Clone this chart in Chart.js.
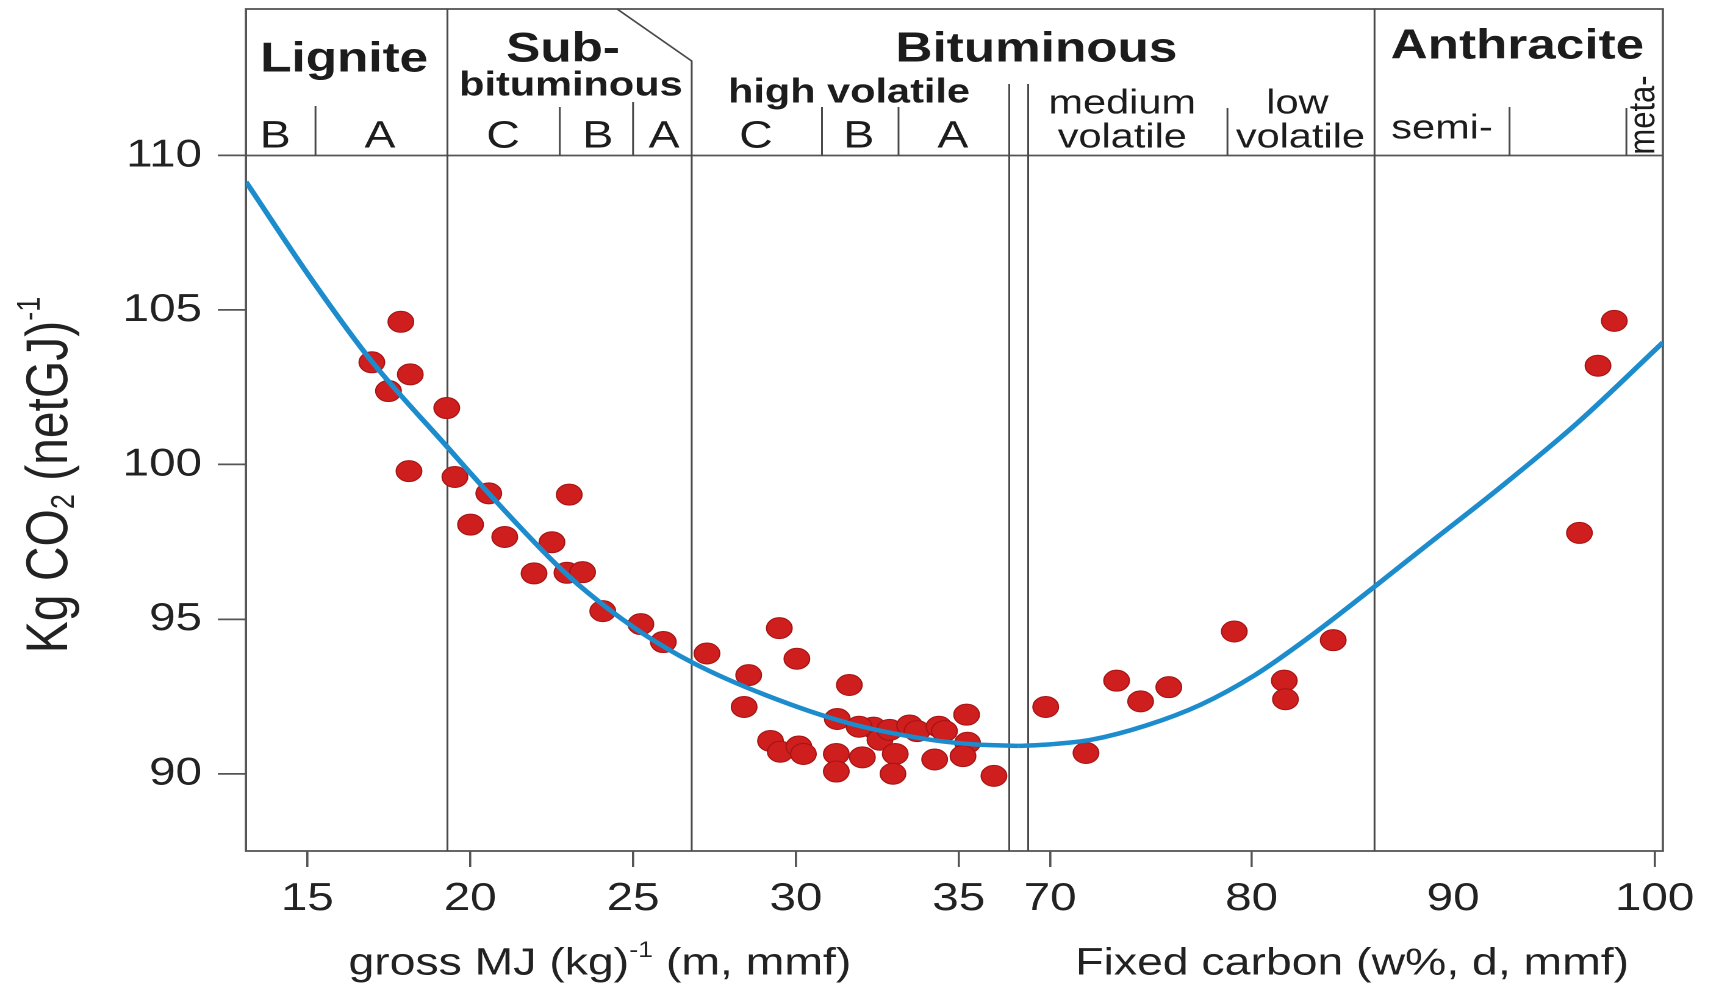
<!DOCTYPE html>
<html>
<head>
<meta charset="utf-8">
<script src="https://cdn.jsdelivr.net/npm/chart.js@4.4.1/dist/chart.umd.min.js"></script>
<style>
  html, body { margin: 0; padding: 0; background: #fff; overflow: hidden; }
  #wrap { width: 1404px; height: 985px; transform: scaleX(1.22); transform-origin: 0 0; }
</style>
</head>
<body>
<div id="wrap"><canvas id="chart" width="1404" height="985"></canvas></div>
<script>
// samples, gross calorific value side (MJ/kg)
const grossX = [16.98, 17.87, 17.49, 18.16, 18.12, 19.28, 19.53, 20.57, 20.01, 21.06, 22.51, 23.04,
    21.96, 22.97, 23.45, 24.07, 25.24, 25.93, 27.27, 28.55, 29.49, 30.03, 28.41, 29.22, 29.52,
    30.09, 30.23, 31.64, 31.27, 31.24, 31.24, 32.04, 32.38, 32.58, 32.88, 33.05, 32.98, 33.49,
    33.72, 34.39, 34.26, 34.56, 35.24, 35.27, 35.13, 36.08, 31.94];
const grossY = [103.31, 104.62, 102.38, 102.92, 99.79, 101.83, 99.6, 99.07, 98.06, 97.66, 97.49, 99.03,
    96.48, 96.5, 96.52, 95.26, 94.84, 94.26, 93.89, 93.19, 94.71, 93.72, 92.16, 91.06, 90.71,
    90.88, 90.64, 92.87, 91.77, 90.64, 90.07, 90.53, 91.49, 91.1, 91.42, 90.64, 90.0, 91.56,
    91.38, 91.52, 90.46, 91.38, 91.91, 91.0, 90.57, 89.93, 91.52];

// samples, fixed carbon side (w%)
const carbonX = [69.78, 71.78, 73.3, 74.49, 75.89, 79.14, 81.62, 81.68, 84.05, 96.27, 97.19, 98.0];
const carbonY = [92.16, 90.67, 93.01, 92.34, 92.8, 94.6, 93.01, 92.41, 94.32, 97.79, 103.2, 104.65];

// fitted curve
const fitGrossX = [13.115, 15.13, 16.97, 19.28, 20.56, 22.82, 23.95, 25.28, 26.87, 29.08, 31.64, 34.2, 35.5, 36.84];
const fitGrossY = [109.15, 105.99, 103.35, 100.59, 99.08, 96.59, 95.57, 94.55, 93.57, 92.54, 91.63, 91.09, 90.95, 90.9];
const fitCarbonX = [68.44, 70, 72.05, 74.76, 77.46, 80.16, 82.86, 86.0, 89.0, 92.22, 96.17, 100.41];
const fitCarbonY = [90.9, 90.95, 91.1, 91.56, 92.23, 93.19, 94.42, 96.0, 97.55, 99.2, 101.35, 103.95];

const grossTicks = [15, 20, 25, 30, 35];
const carbonTicks = [70, 80, 90, 100];
const co2Ticks = [90, 95, 100, 105, 110];

const FONT = '"Liberation Sans", Arial, Helvetica, sans-serif';
const INK = '#1c1c1c';
const FRAME = '#555';

function pts(xs, ys) {
    return xs.map((x, i) => ({x: x, y: ys[i]}));
}

// header labels: text, axis (1 = gross, 2 = carbon), value, y, font
const rankLabels = [
    ['Lignite', 1, 16.13, 60, 'bold 42px'],
    ['Sub-', 1, 22.85, 50, 'bold 42px'],
    ['bituminous', 1, 23.09, 86, 'bold 34px'],
    ['Bituminous', 2, 69.32, 50, 'bold 42px'],
    ['high volatile', 1, 31.63, 93, 'bold 34px'],
    ['Anthracite', 2, 93.19, 47, 'bold 42px'],
    ['B', 1, 14.01, 137, '38px'],
    ['A', 1, 17.23, 137, '38px'],
    ['C', 1, 21.01, 137, '38px'],
    ['B', 1, 23.92, 137, '38px'],
    ['A', 1, 25.95, 137, '38px'],
    ['C', 1, 28.77, 137, '38px'],
    ['B', 1, 31.93, 137, '38px'],
    ['A', 1, 34.82, 137, '38px'],
    ['medium', 2, 73.58, 104, '34px'],
    ['volatile', 2, 73.58, 138, '34px'],
    ['low', 2, 82.27, 104, '34px'],
    ['volatile', 2, 82.42, 138, '34px'],
    ['semi-', 2, 89.45, 129, '34px'],
];

// short dividers in the header: axis, value, top y
const subDividers = [
    [1, 15.25, 106], [1, 22.75, 107], [1, 25.0, 102], [1, 30.8, 107], [1, 33.15, 107],
    [2, 78.8, 108], [2, 92.8, 107], [2, 98.6, 108],
];

function drawRich(ctx, parts, cx, cy) {
    // parts: [text, size, shift]
    let total = 0;
    parts.forEach(p => { ctx.font = p[1] + 'px ' + FONT; total += ctx.measureText(p[0]).width; });
    let x = cx - total / 2;
    parts.forEach(p => {
        ctx.font = p[1] + 'px ' + FONT;
        ctx.fillText(p[0], x, cy + p[2]);
        x += ctx.measureText(p[0]).width;
    });
}

const rankPlugin = {
    id: 'rank',
    beforeDatasetsDraw(chart) {
        const ctx = chart.ctx;
        const a = chart.chartArea;
        const top = 9;
        const px = (ax, v) => (ax === 1 ? chart.scales.x1 : chart.scales.x2).getPixelForValue(v);
        const seg = (x0, y0, x1, y1) => { ctx.beginPath(); ctx.moveTo(x0, y0); ctx.lineTo(x1, y1); ctx.stroke(); };

        ctx.save();
        ctx.strokeStyle = FRAME;
        ctx.lineWidth = 1.8;
        ctx.strokeRect(a.left, top, a.right - a.left, a.bottom - top);
        seg(a.left, a.top, a.right, a.top);

        ctx.strokeStyle = '#4a4a4a';
        ctx.lineWidth = 1.5;
        seg(px(1, 19.3), top, px(1, 19.3), a.bottom);
        ctx.beginPath();
        ctx.moveTo(px(1, 24.51), top);
        ctx.lineTo(px(1, 26.8), 61);
        ctx.lineTo(px(1, 26.8), a.bottom);
        ctx.stroke();
        seg(px(2, 86.1), top, px(2, 86.1), a.bottom);
        seg(px(1, 36.55), 84, px(1, 36.55), a.bottom);
        seg(px(2, 68.91), 84, px(2, 68.91), a.bottom);
        subDividers.forEach(d => seg(px(d[0], d[1]), d[2], px(d[0], d[1]), a.top));

        ctx.fillStyle = INK;
        ctx.textAlign = 'center';
        ctx.textBaseline = 'middle';
        rankLabels.forEach(l => {
            ctx.font = l[4] + ' ' + FONT;
            ctx.fillText(l[0], px(l[1], l[2]), l[3]);
        });
        ctx.save();
        ctx.translate(px(2, 99.47), 115);
        ctx.rotate(-Math.PI / 2);
        ctx.font = '31px ' + FONT;
        ctx.fillText('meta-', 0, 0);
        ctx.restore();

        // axis titles
        ctx.fillStyle = '#222';
        ctx.textAlign = 'left';
        ctx.textBaseline = 'middle';
        drawRich(ctx, [['gross MJ (kg)', 38, 0], ['-1', 22, -13], [' (m, mmf)', 38, 0]], px(1, 23.98), 964);
        drawRich(ctx, [['Fixed carbon (w%, d, mmf)', 38, 0]], px(2, 84.99), 964);
        ctx.save();
        ctx.translate(42, 475);
        ctx.rotate(-Math.PI / 2);
        drawRich(ctx, [['Kg CO', 48, 0], ['2', 27, 11], [' (netGJ)', 48, 0], ['-1', 27, -17]], 0, 0);
        ctx.restore();
        ctx.restore();
    }
};

const tickFont = {family: FONT, size: 39};

new Chart(document.getElementById('chart'), {
    type: 'scatter',
    data: {
        datasets: [
            {
                data: pts(fitGrossX, fitGrossY), xAxisID: 'x1', showLine: true,
                borderColor: 'rgb(28,140,204)', borderWidth: 4.5, pointRadius: 0,
                cubicInterpolationMode: 'monotone', order: 0
            },
            {
                data: pts(fitCarbonX, fitCarbonY), xAxisID: 'x2', showLine: true,
                borderColor: 'rgb(28,140,204)', borderWidth: 4.5, pointRadius: 0,
                cubicInterpolationMode: 'monotone', order: 0
            },
            {
                data: pts(grossX, grossY), xAxisID: 'x1', pointRadius: 10.5,
                backgroundColor: 'rgb(206,30,30)', borderColor: 'rgb(165,20,20)', borderWidth: 1, order: 1
            },
            {
                data: pts(carbonX, carbonY), xAxisID: 'x2', pointRadius: 10.5,
                backgroundColor: 'rgb(206,30,30)', borderColor: 'rgb(165,20,20)', borderWidth: 1, order: 1
            }
        ]
    },
    options: {
        responsive: false,
        animation: false,
        devicePixelRatio: 2,
        layout: {padding: {top: 155.5, right: 41, bottom: 0, left: 0}},
        plugins: {legend: {display: false}, tooltip: {enabled: false}},
        scales: {
            x1: {
                type: 'linear', axis: 'x', position: 'bottom', stack: 'bottom', stackWeight: 633.5,
                min: 13.115, max: 36.84,
                afterBuildTicks: s => { s.ticks = grossTicks.map(v => ({value: v})); },
                afterFit: s => { s.height = 134; },
                border: {display: false},
                grid: {drawOnChartArea: false, drawTicks: true, tickLength: 16, color: FRAME, lineWidth: 1.8},
                ticks: {font: tickFont, color: '#222', padding: 9, autoSkip: false, maxRotation: 0}
            },
            x2: {
                type: 'linear', axis: 'x', position: 'bottom', stack: 'bottom', stackWeight: 528.1,
                min: 68.44, max: 100.41,
                afterBuildTicks: s => { s.ticks = carbonTicks.map(v => ({value: v})); },
                afterFit: s => { s.height = 134; },
                border: {display: false},
                grid: {
                    drawOnChartArea: false, drawTicks: true, tickLength: 16, lineWidth: 1.8,
                    color: c => (c.tick && c.tick.value === 90 ? 'rgba(0,0,0,0)' : FRAME)
                },
                ticks: {font: tickFont, color: '#222', padding: 9, autoSkip: false, maxRotation: 0}
            },
            y: {
                type: 'linear', position: 'left', min: 87.5, max: 110,
                afterBuildTicks: s => { s.ticks = co2Ticks.map(v => ({value: v})); },
                afterFit: s => { s.width = 201.6; },
                border: {display: false},
                grid: {drawOnChartArea: false, drawTicks: true, tickLength: 23, color: FRAME, lineWidth: 1.8},
                ticks: {font: tickFont, color: '#222', padding: 13}
            }
        }
    },
    plugins: [rankPlugin]
});
</script>
</body>
</html>
